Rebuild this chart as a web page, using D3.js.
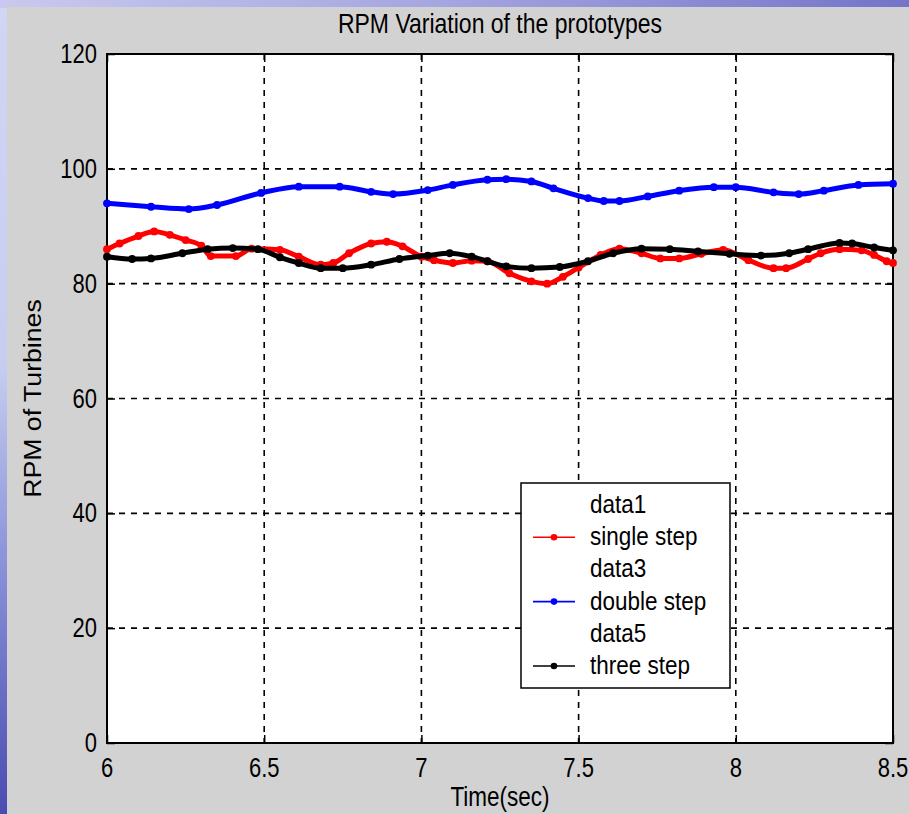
<!DOCTYPE html>
<html>
<head>
<meta charset="utf-8">
<script src="https://cdn.jsdelivr.net/npm/d3@7/dist/d3.min.js"></script>
<style>
  html, body { margin: 0; padding: 0; background: #ffffff; }
  svg { display: block; }
  text { font-family: "Liberation Sans", Arial, Helvetica, sans-serif; fill: #000; }
</style>
</head>
<body>
<svg id="chart" width="909" height="814"></svg>
<script>
// RPM readings (time in seconds, turbine speed in RPM)
const singleStepTime = [6.00, 6.04, 6.10, 6.15, 6.20, 6.25, 6.30, 6.33, 6.41, 6.46, 6.55, 6.61, 6.68, 6.72, 6.77, 6.84, 6.89, 6.94, 7.00, 7.04, 7.10, 7.16, 7.21, 7.28, 7.35, 7.40, 7.45, 7.50, 7.57, 7.63, 7.70, 7.76, 7.82, 7.89, 7.96, 8.04, 8.12, 8.16, 8.23, 8.27, 8.33, 8.40, 8.44, 8.48, 8.50];
const singleStepRpm  = [86.0, 87.0, 88.3, 89.1, 88.5, 87.6, 86.6, 84.8, 84.8, 86.1, 85.9, 84.7, 83.3, 83.6, 85.3, 87.0, 87.3, 86.5, 84.7, 84.1, 83.6, 84.0, 83.9, 81.8, 80.4, 80.0, 81.2, 82.8, 85.0, 86.1, 85.3, 84.4, 84.4, 85.2, 85.9, 84.1, 82.7, 82.7, 84.3, 85.3, 86.0, 85.8, 85.0, 83.9, 83.6];

const doubleStepTime = [6.00, 6.14, 6.26, 6.35, 6.49, 6.61, 6.74, 6.84, 6.91, 7.02, 7.10, 7.21, 7.27, 7.35, 7.42, 7.53, 7.58, 7.63, 7.72, 7.82, 7.93, 8.00, 8.12, 8.20, 8.28, 8.39, 8.50];
const doubleStepRpm  = [94.0, 93.4, 93.0, 93.7, 95.8, 96.9, 96.9, 96.0, 95.6, 96.3, 97.2, 98.1, 98.2, 97.8, 96.6, 94.9, 94.4, 94.4, 95.2, 96.2, 96.8, 96.8, 95.9, 95.6, 96.2, 97.2, 97.4];

const threeStepTime = [6.00, 6.08, 6.14, 6.24, 6.32, 6.40, 6.48, 6.55, 6.61, 6.68, 6.75, 6.84, 6.93, 7.02, 7.09, 7.16, 7.21, 7.27, 7.35, 7.44, 7.53, 7.61, 7.70, 7.79, 7.88, 7.98, 8.08, 8.17, 8.23, 8.33, 8.37, 8.44, 8.50];
const threeStepRpm  = [84.7, 84.3, 84.4, 85.3, 86.0, 86.2, 86.0, 84.6, 83.6, 82.7, 82.7, 83.3, 84.3, 84.9, 85.3, 84.7, 83.9, 83.0, 82.7, 82.9, 83.9, 85.3, 86.1, 86.0, 85.6, 85.2, 84.9, 85.3, 86.0, 87.1, 87.0, 86.3, 85.8];

const xTicks = [6, 6.5, 7, 7.5, 8, 8.5];
const yTicks = [0, 20, 40, 60, 80, 100, 120];
const legendLabels = ["data1", "single step", "data3", "double step", "data5", "three step"];
const legendColors = [null, "#ff0000", null, "#0000ff", null, "#000000"];

const svg = d3.select("#chart");
const W = 909, H = 814;
const plot = { left: 107, right: 893, top: 54, bottom: 743 };
const stretch = 1.22; // tall, narrow lettering of the figure window

// text placed at (px, py) baseline, stretched vertically
function label(parent, px, py, str, size, anchor, sy = stretch) {
  return parent.append("text")
    .attr("transform", `translate(${px},${py}) scale(1,${sy})`)
    .attr("text-anchor", anchor).attr("font-size", size).text(str);
}

// slide backdrop behind the figure window
const defs = svg.append("defs");
const topGrad = defs.append("linearGradient").attr("id", "topGrad").attr("x1", "0").attr("x2", "1").attr("y1", "0").attr("y2", "0");
topGrad.append("stop").attr("offset", "0").attr("stop-color", "#c9c9ef");
topGrad.append("stop").attr("offset", "0.5").attr("stop-color", "#a4a4e0");
topGrad.append("stop").attr("offset", "1").attr("stop-color", "#7474c8");
const leftGrad = defs.append("linearGradient").attr("id", "leftGrad").attr("x1", "0").attr("x2", "0").attr("y1", "0").attr("y2", "1");
leftGrad.append("stop").attr("offset", "0").attr("stop-color", "#d2d6f4");
leftGrad.append("stop").attr("offset", "0.45").attr("stop-color", "#c6cdf0");
leftGrad.append("stop").attr("offset", "0.7").attr("stop-color", "#8890d8");
leftGrad.append("stop").attr("offset", "1").attr("stop-color", "#4a4cb0");
svg.append("rect").attr("x", 0).attr("y", 0).attr("width", W).attr("height", H).attr("fill", "url(#leftGrad)");
svg.append("rect").attr("x", 0).attr("y", 0).attr("width", W).attr("height", 8).attr("fill", "url(#topGrad)");

// figure window
svg.append("rect").attr("x", 7).attr("y", 7).attr("width", W - 7).attr("height", H - 7).attr("fill", "#d2d2d2");

const x = d3.scaleLinear().domain([6, 8.5]).range([plot.left, plot.right]);
const y = d3.scaleLinear().domain([0, 120]).range([plot.bottom, plot.top]);

// axes background
svg.append("rect").attr("x", plot.left).attr("y", plot.top)
  .attr("width", plot.right - plot.left).attr("height", plot.bottom - plot.top)
  .attr("fill", "#ffffff");

// grid lines
const grid = svg.append("g").attr("stroke", "#000").attr("stroke-width", 1.6).attr("stroke-dasharray", "6,6");
grid.selectAll("line.gx").data(xTicks.slice(1, -1)).join("line")
  .attr("x1", d => x(d)).attr("x2", d => x(d)).attr("y1", plot.top).attr("y2", plot.bottom);
grid.selectAll("line.gy").data(yTicks.slice(1, -1)).join("line")
  .attr("x1", plot.left).attr("x2", plot.right).attr("y1", d => y(d)).attr("y2", d => y(d));

// inward ticks on all four edges (labels drawn separately)
function tickMarks(axis, tx, ty) {
  svg.append("g").attr("transform", `translate(${tx},${ty})`)
    .call(axis.tickSize(-8).tickFormat(""))
    .call(g => { g.select(".domain").remove(); g.selectAll(".tick line").attr("stroke", "#000").attr("stroke-width", 1.5); });
}
tickMarks(d3.axisBottom(x).tickValues(xTicks), 0, plot.bottom);
tickMarks(d3.axisTop(x).tickValues(xTicks), 0, plot.top);
tickMarks(d3.axisLeft(y).tickValues(yTicks), plot.left, 0);
tickMarks(d3.axisRight(y).tickValues(yTicks), plot.right, 0);

// tick labels
const fmtX = d3.format("~g"), fmtY = d3.format("d");
const tl = svg.append("g");
xTicks.forEach(t => label(tl, x(t), 777, fmtX(t), 22, "middle"));
yTicks.forEach(t => label(tl, 97, y(t) + 9, fmtY(t), 22, "end"));

// axes frame
svg.append("rect").attr("x", plot.left).attr("y", plot.top)
  .attr("width", plot.right - plot.left).attr("height", plot.bottom - plot.top)
  .attr("fill", "none").attr("stroke", "#000").attr("stroke-width", 2);

// series
const series = [
  { time: singleStepTime, rpm: singleStepRpm, color: "#ff0000" },
  { time: threeStepTime, rpm: threeStepRpm, color: "#000000" },
  { time: doubleStepTime, rpm: doubleStepRpm, color: "#0000ff" }
];
const line = d3.line().x(d => x(d[0])).y(d => y(d[1])).curve(d3.curveMonotoneX);
series.forEach(s => {
  const pts = s.time.map((t, i) => [t, s.rpm[i]]);
  svg.append("path").datum(pts).attr("d", line)
    .attr("fill", "none").attr("stroke", s.color).attr("stroke-width", 5)
    .attr("stroke-linejoin", "round").attr("stroke-linecap", "round");
  svg.append("g").selectAll("circle").data(pts).join("circle")
    .attr("cx", d => x(d[0])).attr("cy", d => y(d[1])).attr("r", 3.9).attr("fill", s.color);
});

// title and axis labels
label(svg, (plot.left + plot.right) / 2, 33, "RPM Variation of the prototypes", 23, "middle");
label(svg, (plot.left + plot.right) / 2, 806, "Time(sec)", 22.5, "middle");
svg.append("text")
  .attr("transform", `translate(41,${(plot.top + plot.bottom) / 2}) rotate(-90) scale(1.16,1)`)
  .attr("text-anchor", "middle").attr("font-size", 23).text("RPM of Turbines");

// legend
const lg = svg.append("g").attr("transform", "translate(521,483)");
lg.append("rect").attr("width", 209).attr("height", 205).attr("fill", "#fff").attr("stroke", "#000").attr("stroke-width", 1.5);
legendLabels.forEach((lab, i) => {
  const cy = 22 + i * 32.2;
  const c = legendColors[i];
  if (c) {
    lg.append("line").attr("x1", 12).attr("x2", 54).attr("y1", cy).attr("y2", cy).attr("stroke", c).attr("stroke-width", 1.6);
    lg.append("circle").attr("cx", 33).attr("cy", cy).attr("r", 3.3).attr("fill", c);
  }
  label(lg, 69, cy + 8, lab, 22.5, "start", 1.15);
});
</script>
</body>
</html>
